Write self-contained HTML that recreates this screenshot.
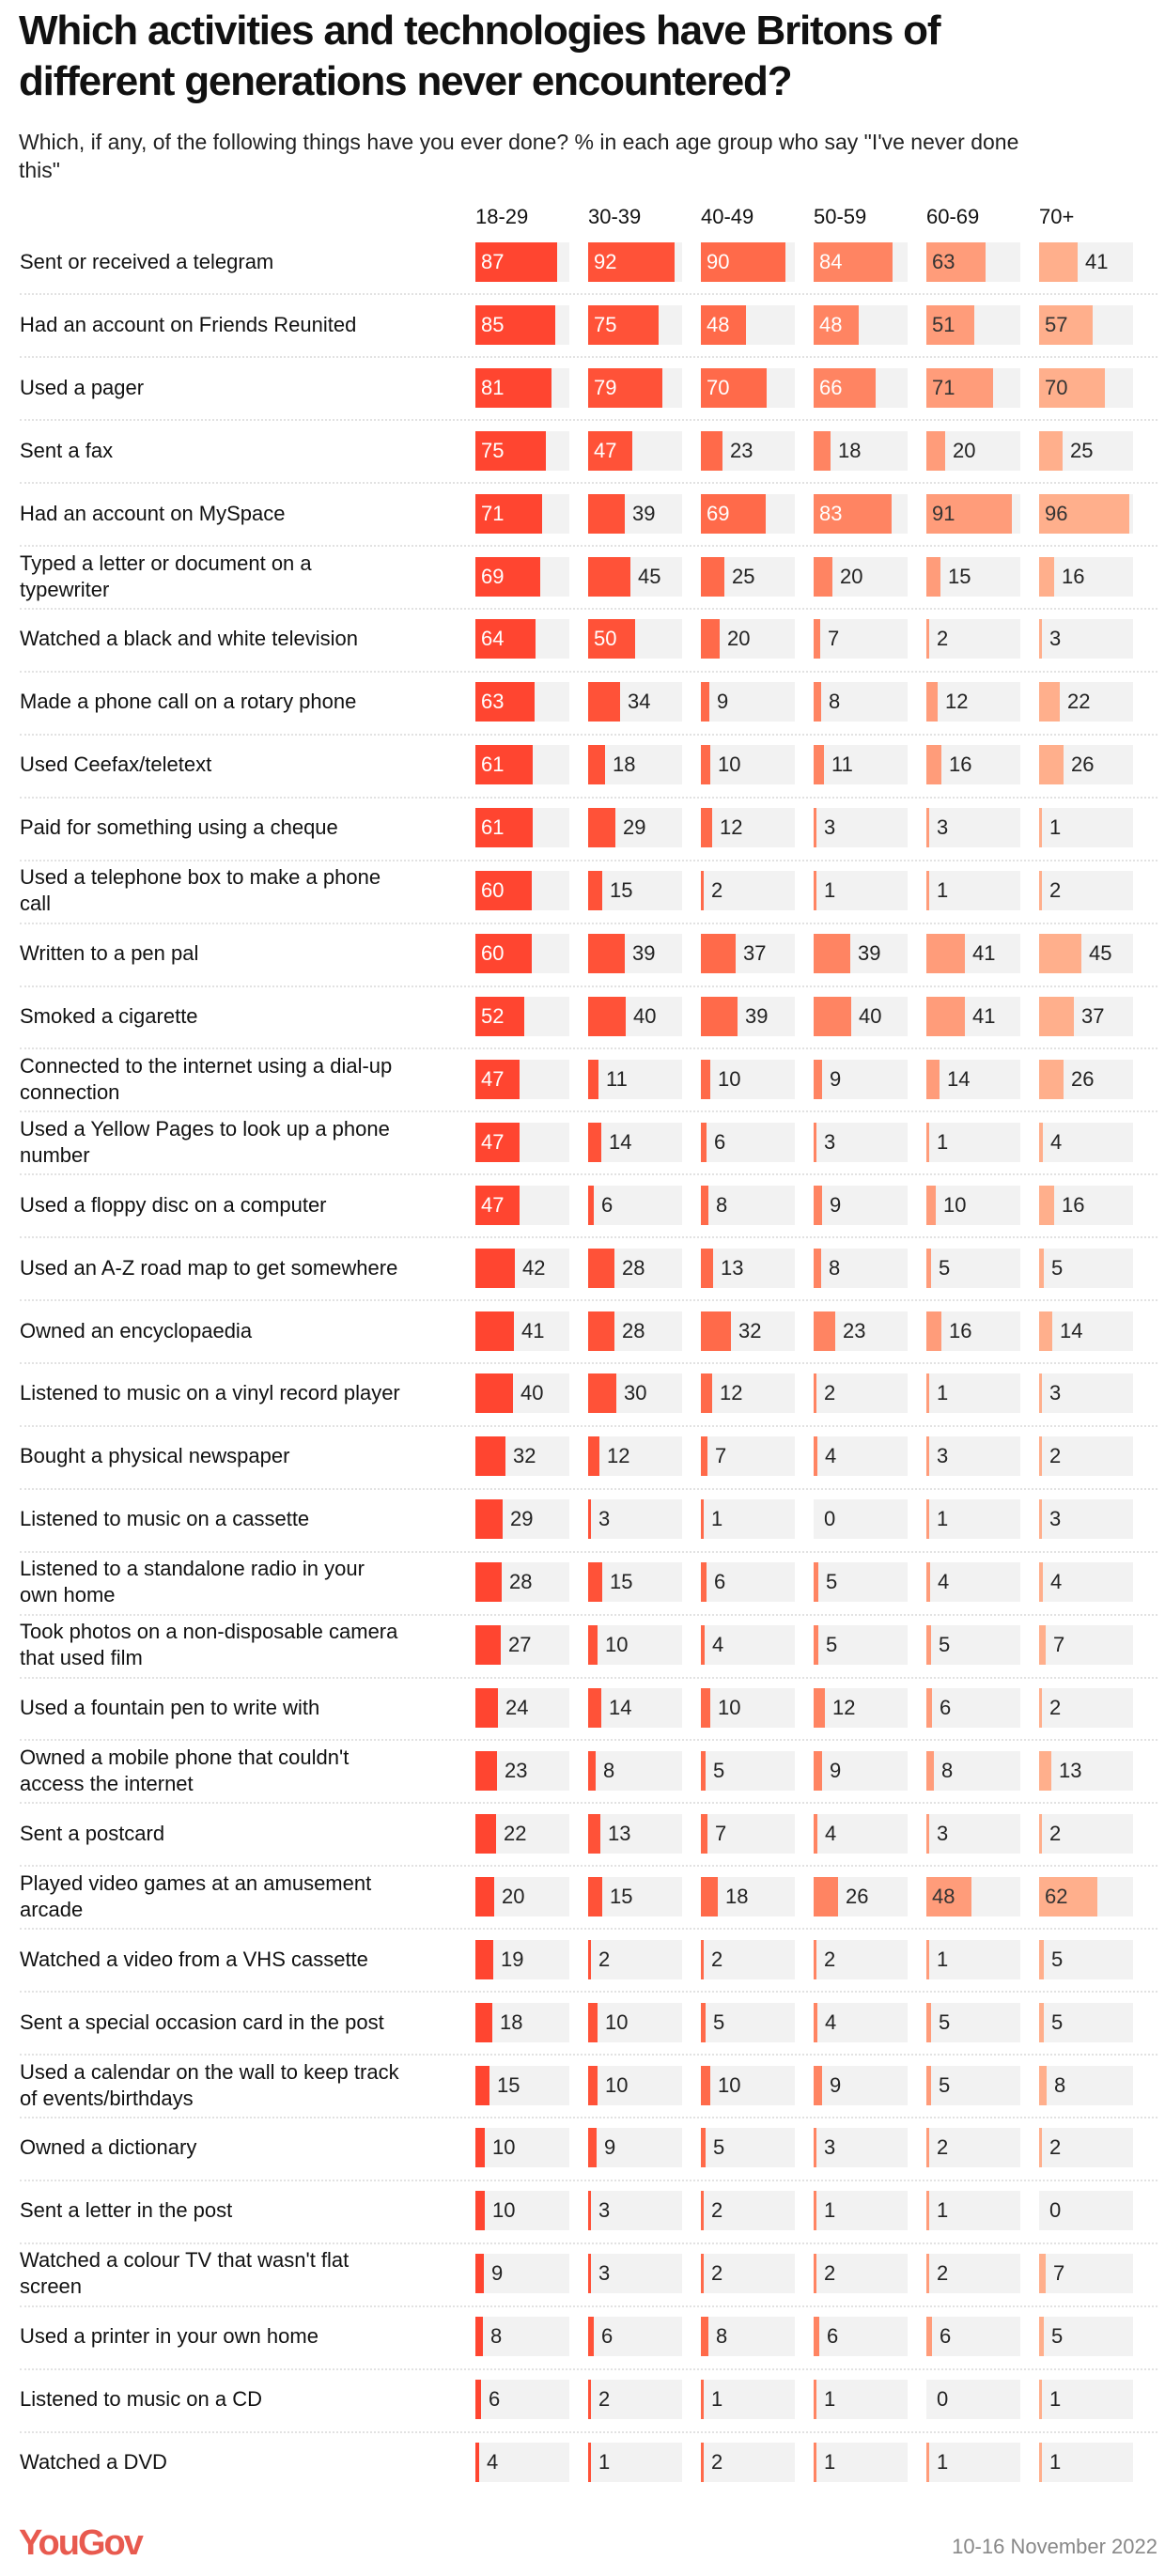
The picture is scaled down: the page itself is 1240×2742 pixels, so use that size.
<!DOCTYPE html>
<html><head><meta charset="utf-8">
<style>
html,body{margin:0;padding:0;background:#fff;}
body{width:1240px;height:2742px;position:relative;overflow:hidden;font-family:"Liberation Sans",sans-serif;color:#111;}
h1{position:absolute;left:20px;top:6px;margin:0;font-size:44px;line-height:54px;font-weight:bold;letter-spacing:-1.2px;width:1100px;}
.sub{position:absolute;left:20px;top:136px;font-size:23px;line-height:30px;width:1110px;color:#222;}
.hdr{position:absolute;top:218px;font-size:22px;}
.lbl{position:absolute;left:21px;font-size:22px;line-height:28px;transform:translateY(-50%);}
.track{position:absolute;background:#f2f2f2;}
.bar{position:absolute;}
.val{position:absolute;font-size:22px;transform:translateY(-50%);}
.sep{position:absolute;left:21px;width:1211px;border-top:2px dotted #e2e2e2;height:0;}
.logo{position:absolute;left:20px;top:2686px;font-size:38px;font-weight:bold;color:#e85a4f;letter-spacing:-2px;}
.date{position:absolute;right:8px;top:2698px;font-size:22px;color:#888;}
</style></head>
<body>
<h1>Which activities and technologies have Britons of different generations never encountered?</h1>
<div class="sub">Which, if any, of the following things have you ever done? % in each age group who say "I've never done this"</div>
<div id="chart"></div>
<div class="logo">YouGov</div>
<div class="date">10-16 November 2022</div>
<script>
const groups=["18-29","30-39","40-49","50-59","60-69","70+"];
const activities=["Sent or received a telegram","Had an account on Friends Reunited","Used a pager","Sent a fax","Had an account on MySpace","Typed a letter or document on a<br>typewriter","Watched a black and white television","Made a phone call on a rotary phone","Used Ceefax/teletext","Paid for something using a cheque","Used a telephone box to make a phone<br>call","Written to a pen pal","Smoked a cigarette","Connected to the internet using a dial-up<br>connection","Used a Yellow Pages to look up a phone<br>number","Used a floppy disc on a computer","Used an A-Z road map to get somewhere","Owned an encyclopaedia","Listened to music on a vinyl record player","Bought a physical newspaper","Listened to music on a cassette","Listened to a standalone radio in your<br>own home","Took photos on a non-disposable camera<br>that used film","Used a fountain pen to write with","Owned a mobile phone that couldn't<br>access the internet","Sent a postcard","Played video games at an amusement<br>arcade","Watched a video from a VHS cassette","Sent a special occasion card in the post","Used a calendar on the wall to keep track<br>of events/birthdays","Owned a dictionary","Sent a letter in the post","Watched a colour TV that wasn't flat<br>screen","Used a printer in your own home","Listened to music on a CD","Watched a DVD"];
const v1829=[87,85,81,75,71,69,64,63,61,61,60,60,52,47,47,47,42,41,40,32,29,28,27,24,23,22,20,19,18,15,10,10,9,8,6,4];
const v3039=[92,75,79,47,39,45,50,34,18,29,15,39,40,11,14,6,28,28,30,12,3,15,10,14,8,13,15,2,10,10,9,3,3,6,2,1];
const v4049=[90,48,70,23,69,25,20,9,10,12,2,37,39,10,6,8,13,32,12,7,1,6,4,10,5,7,18,2,5,10,5,2,2,8,1,2];
const v5059=[84,48,66,18,83,20,7,8,11,3,1,39,40,9,3,9,8,23,2,4,0,5,5,12,9,4,26,2,4,9,3,1,2,6,1,1];
const v6069=[63,51,71,20,91,15,2,12,16,3,1,41,41,14,1,10,5,16,1,3,1,4,5,6,8,3,48,1,5,5,2,1,2,6,0,1];
const v70=[41,57,70,25,96,16,3,22,26,1,2,45,37,26,4,16,5,14,3,2,3,4,7,2,13,2,62,5,5,8,2,0,7,5,1,1];
const series=[v1829,v3039,v4049,v5059,v6069,v70];
const colors=["#ff4530","#ff5238","#ff6a4a","#ff8462","#ff9c7a","#ffaf8c"];
const textIn=["#fff","#fff","#fff","#fff","#333","#333"];
const X0=506,COLW=120,TRACKW=100,Y0=279,ROWH=(2621-279)/(activities.length-1),BARH=42;
const xCol=i=>X0+i*COLW, yRow=r=>Y0+r*ROWH, wVal=v=>v/100*TRACKW;
const root=document.getElementById('chart');
function mk(cls,css,html){const d=document.createElement('div');d.className=cls;Object.assign(d.style,css);if(html!==undefined)d.innerHTML=html;root.appendChild(d);return d;}
groups.forEach((g,i)=>{const h=mk('hdr',{left:xCol(i)+'px'},g);

});
activities.forEach((a,r)=>{
 const y=yRow(r);
 const l=mk('lbl',{top:y+'px'},a);
 
 
 if(r<activities.length-1){const s=mk('sep',{top:(y+ROWH/2)+'px'});
 
 }
 series.forEach((vals,c)=>{
  const v=vals[r],x=xCol(c);
  const t=mk('track',{left:x+'px',top:(y-BARH/2)+'px',width:TRACKW+'px',height:BARH+'px'});
  
  
  const w=wVal(v);
  if(v>0){const b=mk('bar',{left:x+'px',top:(y-BARH/2)+'px',width:Math.max(w,3)+'px',height:BARH+'px',background:colors[c]});
  
  }
  const inside=v>=46;
  const tx=inside?x+6:x+Math.max(w,3)+8;
  const lab=mk('val',{left:tx+'px',top:y+'px',color:inside?textIn[c]:'#222'},String(v));
  
  
 });
});
</script>
</body></html>
